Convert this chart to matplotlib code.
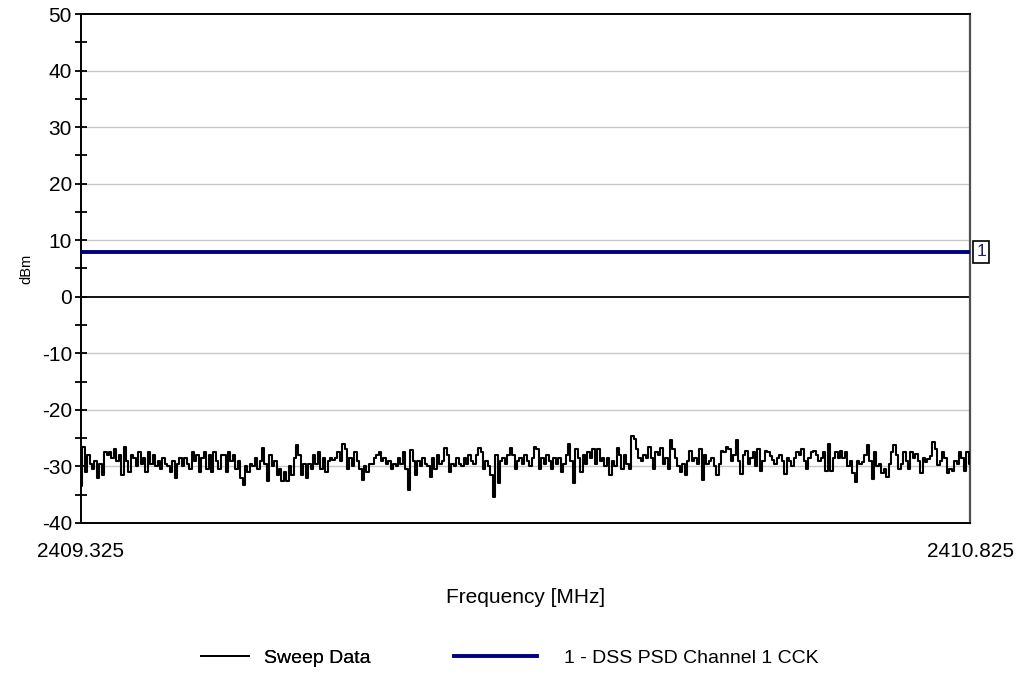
import numpy as np
import matplotlib
matplotlib.use("Agg")
import matplotlib.pyplot as plt
from matplotlib.lines import Line2D

plt.rcParams['font.family'] = ['Liberation Sans', 'DejaVu Sans']
plt.rcParams['axes.unicode_minus'] = False

f_start = 2409.325
f_stop = 2410.825
limit_level = 8.0
limit_label = "1"
series_names = ["Sweep Data", "1 - DSS PSD Channel 1 CCK"]
y_label = "dBm"
x_label = "Frequency [MHz]"

seg1 = [-33.5, -26.5, -31, -28, -29.5, -30.5, -29, -32, -29.5, -31.5, -27.5, -28, -27.5, -28.5, -27, -29, -28, -31.5, -26.5, -29,
        -31, -28, -28.5, -30, -27.5, -29.5, -28.5, -31, -27.5, -29.5, -28, -30, -29, -30.5, -28.5, -29.5, -30, -31, -29, -32,
        -29.5, -28.5, -30, -28.5, -29.5, -30.5, -27.5, -29, -28, -31, -28.5, -27.5, -30.5, -28, -31, -27.5, -29, -30.5, -28]
seg2 = [-28, -31, -27.5, -29, -28, -30.5, -29, -32, -33.3, -30, -31, -29.5, -30, -28.5, -30.5, -29, -26.8, -29.5, -32.5, -28,
        -30, -29, -31.5, -30.5, -32.5, -31, -32.5, -30, -31.5, -28.5, -26.2, -28, -31.5, -29.5, -32, -29.5, -30.5, -28, -29.5, -27.5,
        -30.5, -28.5, -31, -29, -28.5, -28.8, -28.5, -27.5, -29, -26, -27, -30.5, -28.5, -30, -27.5, -29, -30.5, -32.4, -30, -31,
        -29.5, -29.5, -28.5, -28, -27.5, -29, -28.5, -29.5]
seg3 = [-29, -30.5, -29.5, -30, -28.5, -29.5, -27.5, -30.5, -34.2, -27.1, -29, -31.5, -29, -30, -28.5, -29.5, -30, -31.8, -28.5, -30.5,
        -28, -29.5, -29, -26.8, -28, -31, -29.5, -30, -28.5, -29.5, -30, -28.5, -29.5, -28, -29, -29.5, -28, -26.8, -27.5, -30.5,
        -29, -30, -31.5, -35.4, -28, -33, -29, -28.5, -29.5, -28, -26.8, -28, -30.5, -29, -28.5, -29.5, -28, -29, -30, -28.5,
        -26.5, -27, -30.5, -28.5, -29.5, -28]
seg4 = [-29, -30.5, -28.5, -29.5, -28.5, -31, -29.5, -28, -26, -29, -33, -27, -28.5, -31, -28, -29.5, -27.5, -28.5, -27, -29.5,
        -27, -29, -28.5, -30, -28.5, -31.5, -29, -30, -26.8, -28, -30.5, -28, -29.5, -30.5, -24.6, -25.2, -27, -28.5, -29, -28,
        -28.5, -26.5, -28.5, -30.5, -27.5, -28, -26.8, -29.5, -28.5, -30.5, -25.3, -27, -28.5, -30, -31, -29.5, -31.5, -29, -27.2, -29,
        -28.5]
seg5 = [-29.5, -27, -32.4, -28, -29.5, -29, -28.5, -30, -31.5, -29.5, -27.2, -27.5, -26.5, -27, -29, -28, -25.3, -29, -31.3, -28,
        -27.2, -29.5, -28.5, -27.5, -30, -27, -30.8, -29, -27.2, -27.5, -28.2, -28.8, -29.5, -28.5, -28, -29, -31.3, -28.5, -29, -30,
        -28.5, -27.5, -28, -27, -29, -30.5, -28.5, -27.5, -27.2, -28, -29, -28.5, -27.5, -30.8, -26, -30.8, -28.5, -27.5, -28.5]
seg6 = [-27.2, -28.5, -27.5, -30, -29, -31.2, -32.7, -29, -29.5, -29.2, -28, -26.2, -29, -32.2, -27.5, -30, -29.5, -31.2, -30.5, -31.8,
        -29.5, -27.5, -26.2, -28, -30.5, -29.5, -27.5, -29, -30.5, -27.5, -28.5, -27.8, -29, -31.2, -28.5, -29.3, -28.6, -28.2, -25.6, -27,
        -29.8, -29, -27.5, -28.5, -31.2, -30.5, -30.8, -29, -29.5, -27.5, -28.5, -30.8, -27.5, -29.5]

sweep = np.array(seg1 + seg2 + seg3 + seg4 + seg5 + seg6)
freq = np.linspace(f_start, f_stop, len(sweep))

fig = plt.figure(figsize=(10.21, 6.96), dpi=100)
ax = fig.add_axes([81/1021, 1 - 523/696, (970 - 81)/1021, (523 - 14)/696])

ax.set_xlim(f_start, f_stop)
ax.set_ylim(-40, 50)

for y in range(-30, 50, 10):
    if y != 0:
        ax.axhline(y, color='#c8c8c8', lw=1.0, zorder=1)
ax.axhline(0, color='black', lw=1.3, zorder=2)

ax.plot(freq, sweep, color='black', lw=1.5, drawstyle='steps-mid', zorder=3)
ax.axhline(limit_level, color='#000080', lw=2.8, zorder=4)

ax.text(1.007, limit_level, limit_label, transform=ax.get_yaxis_transform(),
        ha='left', va='center', fontsize=12.5, color='#202060',
        bbox=dict(boxstyle='square,pad=0.2', facecolor='white', edgecolor='black', lw=1.2))

ax.set_yticks(np.arange(-40, 51, 10))
ax.set_yticks(np.arange(-35, 50, 10), minor=True)
ax.tick_params(axis='y', which='both', direction='inout', length=9, width=1.3, labelsize=15, pad=2)
ax.set_xticks([f_start, f_stop])
ax.set_xticklabels([f"{f_start:.3f}", f"{f_stop:.3f}"])
ax.tick_params(axis='x', which='both', length=0, labelsize=15, pad=14)

for s in ['left', 'bottom', 'top']:
    ax.spines[s].set_color('black')
    ax.spines[s].set_linewidth(1.4)
ax.spines['right'].set_color('#505050')
ax.spines['right'].set_linewidth(1.6)

ax.set_ylabel(y_label, fontsize=10.5, labelpad=6)
ax.set_xlabel(x_label, fontsize=15, labelpad=19)

h1 = Line2D([], [], color='black', lw=1.3)
h2 = Line2D([], [], color='#000080', lw=2.8)
leg1 = fig.legend([h1], [series_names[0]], loc='center left', bbox_to_anchor=(183/1021, 1 - 658/696),
                  frameon=False, fontsize=14, handlelength=2.5, handletextpad=0.75)
fig.add_artist(leg1)
leg2 = fig.legend([h2], [series_names[1]], loc='center left', bbox_to_anchor=(436/1021, 1 - 658/696),
                  frameon=False, fontsize=14, handlelength=4.3, handletextpad=1.4)

fig.savefig("out.png", dpi=100, facecolor='white')
